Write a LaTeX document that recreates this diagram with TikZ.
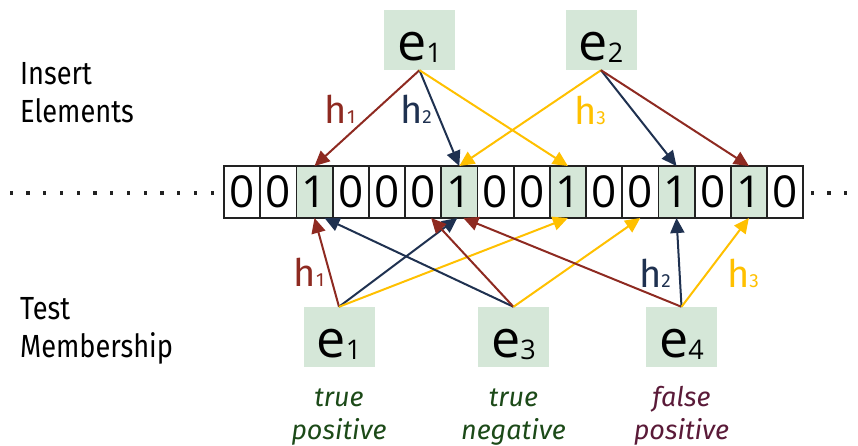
\documentclass[tikz,border=0pt]{standalone}
\usepackage{fontspec}
\setmainfont{Fira Sans}
\newfontfamily\sidefont[FakeStretch=0.85]{Fira Sans}
\newfontfamily\bitfont{Open Sans}
\usetikzlibrary{arrows.meta}
\definecolor{hred}{HTML}{8E2A21}
\definecolor{hnavy}{HTML}{1F3150}
\definecolor{hyellow}{HTML}{FFC000}
\definecolor{setgreen}{HTML}{D5E7D8}
\definecolor{okgreen}{HTML}{1C4A18}
\definecolor{badred}{HTML}{5A1A38}
\definecolor{cellline}{HTML}{222222}
\newcommand\hsub[1]{{\fontsize{19}{19}\selectfont #1}}
\newcommand\esub[1]{\raisebox{-2.5pt}{\fontsize{27}{27}\selectfont #1}}

\begin{document}
\begin{tikzpicture}[x=1pt,y=-1pt,
  bit/.style={draw=cellline, line width=1.8pt, minimum width=36.2pt, minimum height=52pt,
    inner sep=0pt, outer sep=0pt, font=\bitfont\fontsize{44}{44}\selectfont,
    text height=31pt, text depth=0pt},
  bitzero/.style={bit, fill=white},
  bitone/.style={bit, fill=setgreen},
  elem/.style={fill=setgreen, minimum width=71pt, minimum height=60pt, inner sep=0pt,
    text height=40pt, text depth=0pt, font=\bitfont\fontsize{52}{52}\selectfont},
  hash/.style={-{Triangle[length=15pt,width=14pt]}, line width=2pt},
  hlabel/.style={inner sep=0pt, font=\fontsize{38}{38}\selectfont},
  side/.style={align=left, anchor=north west, inner sep=0pt,
    font=\sidefont\fontsize{32}{38}\selectfont},
  verdict/.style={align=center, anchor=north, inner sep=0pt,
    font=\itshape\fontsize{27}{33}\selectfont},
]
\useasboundingbox (0,0) rectangle (858,445);

% the bit array
\foreach \s/\d [count=\i from 0] in {bitzero/0,bitzero/0,bitone/1,bitzero/0,bitzero/0,bitzero/0,
    bitone/1,bitzero/0,bitzero/0,bitone/1,bitzero/0,bitzero/0,bitone/1,bitzero/0,bitone/1,bitzero/0}
  \node[\s] (c\i) at ({224+36.2*(\i+0.5)},192) {\d};

% dots continuing the array on both sides
\foreach \k in {0,...,12}
  \fill[cellline] ({9.5+16.75*\k},191.3) rectangle ++(3.4,3.4);
\foreach \k in {0,1,2}
  \fill[cellline] ({810.5+16.75*\k},191.3) rectangle ++(3.4,3.4);

% row captions
\node[side] (capins) at (20,62) {Insert\\Elements};
\node[side] (captest) at (20,297) {Test\\Membership};

% inserted elements
\node[elem] (ins1) at (419.5,40) {e\esub{1}};
\node[elem] (ins2) at (601,40) {e\esub{2}};

% queried elements
\node[elem] (q1) at (339,337) {e\esub{1}};
\node[elem] (q3) at (513.5,337) {e\esub{3}};
\node[elem] (q4) at (681.5,337) {e\esub{4}};

% hashing on insert
\draw[hash,hred] (ins1.south) -- (c2.north);
\draw[hash,hnavy] (ins1.south) -- (c6.north);
\draw[hash,hyellow] (ins1.south) -- (c9.north);
\draw[hash,hyellow] (ins2.south) -- (c6.north);
\draw[hash,hnavy] (ins2.south) -- (c12.north);
\draw[hash,hred] (ins2.south) -- (c14.north);

% hashing on lookup
\draw[hash,hred] (q1.north) -- (c2.south);
\draw[hash,hnavy] (q1.north) -- ([xshift=-2pt]c6.south);
\draw[hash,hyellow] (q1.north) -- (c9.south);
\draw[hash,hnavy] (q3.north) -- ([xshift=10pt]c2.south);
\draw[hash,hred] (q3.north) -- ([xshift=8pt]c5.south);
\draw[hash,hyellow] (q3.north) -- (c11.south);
\draw[hash,hred] (q4.north) -- ([xshift=4pt]c6.south);
\draw[hash,hnavy] (q4.north) -- (c12.south);
\draw[hash,hyellow] (q4.north) -- (c14.south);

% hash function labels
\node[hlabel,hred] (t1) at (340,109) {h\hsub{1}};
\node[hlabel,hnavy] (t2) at (416,109) {h\hsub{2}};
\node[hlabel,hyellow] (t3) at (590,110) {h\hsub{3}};
\node[hlabel,hred] (b1) at (309,272) {h\hsub{1}};
\node[hlabel,hnavy] (b2) at (655,273) {h\hsub{2}};
\node[hlabel,hyellow] (b3) at (743,273) {h\hsub{3}};

% outcomes
\node[verdict,okgreen] (v1) at (339,386) {\rule{0pt}{20pt}true\\positive};
\node[verdict,okgreen] (v3) at (513.5,386) {\rule{0pt}{20pt}true\\negative};
\node[verdict,badred] (v4) at (681.5,386) {\rule{0pt}{20pt}false\\positive};
\end{tikzpicture}
\end{document}
